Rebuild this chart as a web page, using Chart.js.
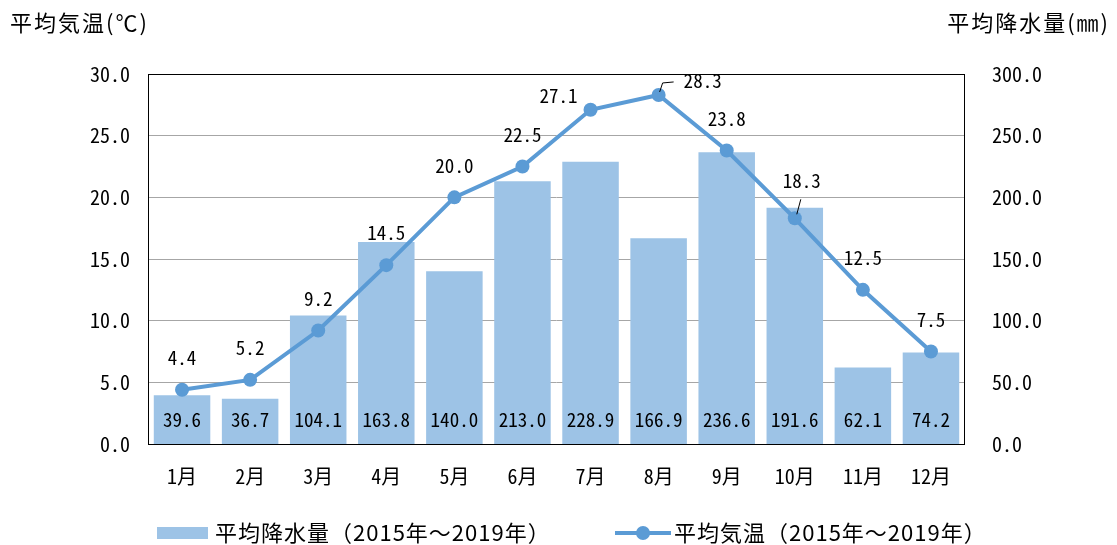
<!DOCTYPE html>
<html><head><meta charset="utf-8">
<script src="https://cdn.jsdelivr.net/npm/chart.js@4/dist/chart.umd.min.js"></script>
<style>html,body{margin:0;padding:0;background:#fff}#wrap{width:1117px;height:545px;position:relative}</style>
</head><body><div id="wrap"><canvas id="c" width="1117" height="545"></canvas></div>
<script>
const categories = ['1月','2月','3月','4月','5月','6月','7月','8月','9月','10月','11月','12月'];
const rainfall = [39.6,36.7,104.1,163.8,140.0,213.0,228.9,166.9,236.6,191.6,62.1,74.2];
const temperature = [4.4,5.2,9.2,14.5,20.0,22.5,27.1,28.3,23.8,18.3,12.5,7.5];
const rainName = '平均降水量（2015年～2019年）';
const tempName = '平均気温（2015年～2019年）';
const leftTitle = '平均気温(℃)';
const rightTitle = '平均降水量(㎜)';
const leftTicks = [0,5,10,15,20,25,30];
const rightTicks = [0,50,100,150,200,250,300];

const FONT = '"Noto Sans Mono CJK JP","Noto Sans CJK JP",sans-serif';
const BAR = '#9DC3E6', LINE = '#5B9BD5';
// label offsets (style) for the temperature labels: [dx, dy, leader]
const tempLabelOffsets = {6:[-32,-14], 7:[44,-14,'a'], 9:[7,-38,'b']};
const fmt = v => v.toFixed(1);

const labelsPlugin = {
  id:'labels',
  afterDatasetsDraw(chart){
    const ctx = chart.ctx;
    ctx.save();
    ctx.font = '19px ' + FONT;
    ctx.fillStyle = '#000';
    ctx.textAlign = 'center';
    ctx.textBaseline = 'middle';
    const y0 = chart.scales.y1.getPixelForValue(0);
    chart.getDatasetMeta(0).data.forEach((b,i)=>{
      ctx.fillText(fmt(rainfall[i]), b.x, y0 - 24);
    });
    chart.getDatasetMeta(1).data.forEach((p,i)=>{
      const o = tempLabelOffsets[i] || [0,-32];
      ctx.fillText(fmt(temperature[i]), p.x + o[0], p.y + o[1]);
      if (o[2]){
        ctx.strokeStyle='#000'; ctx.lineWidth=1;
        ctx.beginPath();
        if (o[2]==='a'){ ctx.moveTo(p.x+1,p.y-3); ctx.lineTo(p.x+4,p.y-12); ctx.lineTo(p.x+15,p.y-13); }
        else { ctx.moveTo(p.x+2,p.y-4); ctx.lineTo(p.x+6,p.y-19); }
        ctx.stroke();
      }
    });
    ctx.restore();
  },
  afterDraw(chart){
    const ctx = chart.ctx, a = chart.chartArea;
    ctx.save();
    ctx.strokeStyle='#000'; ctx.lineWidth=1;
    ctx.strokeRect(Math.round(a.left)+0.5, Math.round(a.top)+0.5, Math.round(a.right-a.left)-1, Math.round(a.bottom-a.top));
    ctx.font = '22px "Noto Sans CJK JP",sans-serif';
    ctx.letterSpacing = '2px';
    ctx.fillStyle='#000'; ctx.textBaseline='middle';
    ctx.textAlign='left';
    ctx.fillText(leftTitle, 10, 23);
    ctx.textAlign='right';
    ctx.fillText(rightTitle, 1110, 23);
    // legend
    const ly = 533;
    ctx.letterSpacing = '1px';
    ctx.textAlign='left';
    ctx.fillStyle = BAR;
    ctx.fillRect(157, ly-6, 51, 12);
    ctx.fillStyle='#000';
    ctx.fillText(rainName, 215, ly);
    ctx.strokeStyle = LINE; ctx.lineWidth = 4;
    ctx.beginPath(); ctx.moveTo(615, ly); ctx.lineTo(671, ly); ctx.stroke();
    ctx.fillStyle = LINE;
    ctx.beginPath(); ctx.arc(643, ly, 7, 0, Math.PI*2); ctx.fill();
    ctx.fillStyle='#000';
    ctx.fillText(tempName, 674, ly);
    ctx.restore();
  }
};

new Chart(document.getElementById('c'), {
  data:{
    labels: categories,
    datasets:[
      {type:'bar', label:rainName, data:rainfall, yAxisID:'y1', backgroundColor:BAR, borderWidth:0,
       categoryPercentage:1, barPercentage:0.83, order:2},
      {type:'line', label:tempName, data:temperature, yAxisID:'y', borderColor:LINE, backgroundColor:LINE,
       borderWidth:4, pointRadius:7, pointHoverRadius:7, pointBorderWidth:0, tension:0, order:1}
    ]
  },
  options:{
    responsive:false, animation:false, devicePixelRatio:1,
    layout:{padding:{top:74,left:0,right:0,bottom:0}},
    plugins:{legend:{display:false}, tooltip:{enabled:false}},
    scales:{
      x:{grid:{display:false}, border:{display:false},
         ticks:{color:'#000', font:{family:FONT,size:20}, padding:12},
         afterFit(s){ s.height = 101; }},
      y:{position:'left', min:0, max:30, afterBuildTicks(s){ s.ticks = leftTicks.map(v=>({value:v})); },
         grid:{color:'#A6A6A6', drawTicks:false}, border:{display:false},
         ticks:{color:'#000', font:{family:FONT,size:20}, padding:18, callback:v=>fmt(v)},
         afterFit(s){ s.width = 148; }},
      y1:{position:'right', min:0, max:300, afterBuildTicks(s){ s.ticks = rightTicks.map(v=>({value:v})); },
         grid:{display:false}, border:{display:false},
         ticks:{color:'#000', font:{family:FONT,size:20}, padding:19, callback:v=>fmt(v)},
         afterFit(s){ s.width = 152; }}
    }
  },
  plugins:[labelsPlugin]
});
</script></body></html>
